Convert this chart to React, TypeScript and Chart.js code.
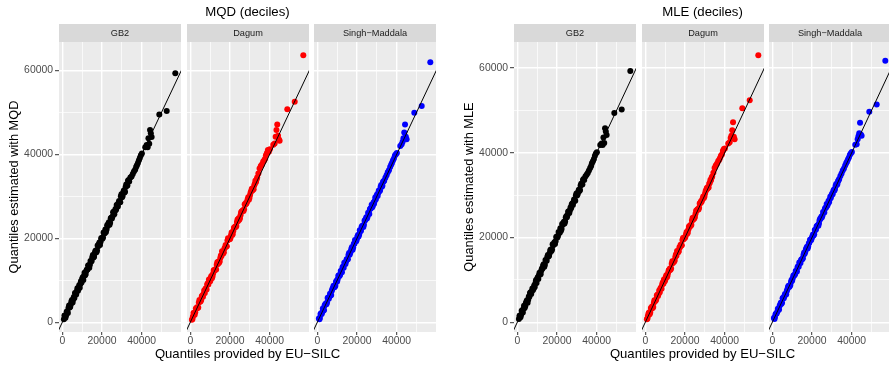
import React, { useEffect, useRef } from "react";
import { Chart, registerables } from "chart.js";
Chart.register(...registerables);

// ---------- data ----------
const groupTitles = ["MQD (deciles)", "MLE (deciles)"];
const yAxisTitles = ["Quantiles estimated with MQD", "Quantiles estimated with MLE"];
const xAxisTitle = "Quantiles provided by EU\u2212SILC";
const facetNames = ["GB2", "Dagum", "Singh\u2212Maddala"];
const facetColors = ["#000000", "#FF0000", "#0000FF"];

const xGridValues = [0, 10000, 20000, 30000, 40000, 50000];
const xTickLabels = [0, 20000, 40000];
const yGridValues = [0, 10000, 20000, 30000, 40000, 50000, 60000];
const yTickLabels = [0, 20000, 40000, 60000];
const xRange = [-1660, 59800];
const yRangeMQD = [-2310, 66740];
const yRangeMLE = [-2290, 66130];
const refLine = [-10000, 80000];

// EU-SILC quantiles (shared x values)
const euSilc = [
  800, 1300, 1900, 2500, 3100, 3700, 4300, 4900, 5500, 6100, 6700, 7300, 7900, 8500,
  9100, 9700, 10300, 10900, 11500, 12100, 12700, 13300, 13900, 14500, 15100, 15700,
  16300, 16900, 17500, 18100, 18700, 19300, 19900, 20500, 21100, 21700, 22300, 22900,
  23500, 24100, 24700, 25300, 25900, 26500, 27100, 27700, 28300, 28900, 29500, 30100,
  30700, 31300, 31900, 32500, 33100, 33700,
  34300, 34900, 35500, 36100, 36700, 37200, 37600, 38100, 38600, 39100, 39600, 40100,
  41800, 42500, 43000, 43400, 43800, 44200, 44600, 45000, 48870, 52600, 56930,
  1100, 1600, 2200, 2800, 3400, 4000, 4600, 5200, 5800, 6400, 7000, 7600, 8200, 8800,
  9400, 10000, 10600, 11200, 11800, 12400, 13000, 13600, 14200, 14800, 15400, 16000,
  16600, 17200, 17800, 18400, 19000, 19600, 20200, 20800, 21400, 22000, 22600, 23200,
  23800, 24400, 25000, 25600, 26200, 26800, 27400, 28000, 28600, 29200, 29800, 30400,
  31000, 31600, 32200, 32800, 33400,
];

const mqdGB2 = [
  700, 1500, 1600, 2600, 3400, 3500, 4300, 5300, 5400, 5800, 6900, 7400, 7500, 8800,
  9100, 9500, 10700, 11000, 11200, 12300, 12600, 13600, 13700, 14500, 15500, 15400,
  16400, 17100, 17100, 18100, 19000, 19200, 20100, 20200, 21200, 22100, 22100, 22900,
  23800, 23700, 24900, 25200, 26300, 26500, 26800, 27900, 28400, 28700, 30000, 29800,
  30900, 30900, 32200, 32500, 33700, 33500,
  34500, 34700, 35300, 35900, 36300, 37000, 37400, 37900, 38600, 39200, 39800, 40200,
  41700, 42200, 41700, 43800, 42500, 45800, 45000, 44100, 49500, 50300, 59300,
  1600, 1100, 2500, 2200, 4000, 3700, 5000, 4700, 6000, 7000, 6600, 8100, 8000, 8200,
  9800, 10300, 10100, 11800, 11500, 12600, 13500, 13000, 14600, 14600, 16000, 15600,
  16900, 16700, 18300, 18600, 18400, 20000, 19900, 21400, 21200, 21500, 23100, 23500,
  23200, 24800, 24700, 26200, 25700, 27000, 27900, 27600, 28900, 28600, 30500, 30100,
  31400, 31100, 32800, 32600, 33900,
];
const mqdDagum = [
  600, 1400, 2200, 2400, 3300, 3400, 4700, 4900, 5300, 6400, 6800, 7000, 8100, 9000,
  9000, 9700, 10600, 10500, 11600, 12300, 12500, 13700, 13900, 14200, 15300, 15800,
  16800, 16700, 17800, 18100, 19500, 19700, 19800, 20700, 20800, 21800, 22600, 22700,
  23900, 24100, 24400, 25500, 26400, 26600, 26900, 28000, 28300, 29300, 29200, 30300,
  31300, 31400, 31700, 33000, 33400, 34500,
  35400, 36600, 37200, 37600, 38200, 38500, 38900, 39800, 40300, 41000, 40600, 41200,
  42300, 42600, 44200, 45800, 47100, 44400, 43600, 43200, 50700, 52500, 63600,
  800, 2200, 1800, 3300, 3600, 3500, 5300, 5000, 6200, 6100, 7600, 7900, 7800, 9300,
  10200, 9800, 11000, 10900, 12400, 12600, 12600, 14300, 14500, 14500, 15900, 16900,
  16400, 17600, 18400, 18100, 20000, 19900, 20000, 21400, 21000, 22500, 22800, 22900,
  24500, 24800, 24800, 26200, 26500, 26500, 28100, 28400, 28700, 29800, 29600, 30900,
  31800, 31800, 32600, 33700, 34000,
];
const mqdSM = [
  900, 1100, 2100, 2400, 2800, 4000, 4400, 4700, 5900, 6100, 6400, 7500, 8200, 8400,
  8700, 9900, 10300, 11200, 11300, 12200, 13100, 13000, 14100, 14500, 15000, 16000,
  16100, 17000, 17900, 17800, 18700, 19500, 19800, 20800, 20900, 21700, 22700, 23000,
  23200, 24300, 25000, 25100, 25900, 26900, 27200, 27400, 28500, 28900, 29300, 30400,
  30800, 31200, 32300, 32300, 33400, 33700,
  34400, 35000, 35700, 36200, 37000, 37500, 37900, 38500, 39000, 39700, 40000, 40300,
  42000, 42400, 43000, 43800, 45200, 47100, 44200, 43600, 49900, 51500, 61900,
  700, 2000, 2000, 3300, 2900, 4300, 4300, 5800, 5600, 6800, 6500, 7900, 8700, 8400,
  9600, 9700, 11100, 11000, 12200, 11900, 13300, 14200, 13900, 15000, 15000, 16500,
  16500, 17600, 17300, 18700, 19600, 19300, 20400, 20400, 21900, 21800, 22900, 22700,
  24200, 24600, 24700, 26100, 25800, 27100, 28000, 27800, 28200, 29700, 30100, 30100,
  31400, 31400, 32700, 32500, 33600,
];
const mleGB2 = [
  800, 1600, 1700, 2700, 3200, 3400, 4500, 5200, 5300, 6000, 7100, 7300, 7600, 8700,
  9200, 9300, 10600, 11100, 11300, 12200, 12700, 13700, 13600, 14600, 15400, 15500,
  16300, 17200, 17200, 18200, 18900, 19100, 20200, 20400, 21100, 22200, 22000, 23000,
  23700, 23800, 25000, 25300, 26200, 26400, 26900, 28000, 28300, 28800, 29900, 29900,
  30800, 31000, 32300, 32600, 33600, 33600,
  34400, 34800, 35200, 35800, 36400, 36900, 37500, 38000, 38500, 39300, 39800, 40100,
  41800, 42200, 41800, 43600, 42300, 45800, 45000, 44200, 49400, 50200, 59300,
  1500, 1200, 2700, 2300, 3900, 3800, 4900, 4600, 6100, 6900, 6700, 8000, 7900, 8300,
  9900, 10200, 10200, 11700, 11400, 12700, 13400, 13100, 14700, 14500, 15900, 15700,
  17000, 16800, 18400, 18500, 18500, 20100, 20000, 21300, 21100, 21600, 23200, 23400,
  23300, 24700, 24800, 26100, 25800, 27100, 27800, 27700, 29000, 28700, 30400, 30200,
  31300, 31200, 32700, 32500, 33800,
];
const mleDagum = [
  700, 1500, 2300, 2300, 3200, 3400, 4600, 5000, 5400, 6500, 6700, 7100, 8200, 8900,
  9100, 9600, 10700, 10600, 11700, 12200, 12400, 13800, 14000, 14300, 15400, 15700,
  16700, 16800, 17700, 18200, 19400, 19600, 19900, 20800, 20900, 21900, 22500, 22800,
  24000, 24200, 24500, 25600, 26300, 26700, 27000, 28100, 28400, 29200, 29300, 30400,
  31200, 31500, 31800, 32900, 33500, 34400,
  35300, 36400, 37000, 37400, 38000, 38300, 38700, 39300, 39600, 40500, 40900, 41000,
  42200, 42500, 43500, 44000, 45300, 47200, 43800, 43200, 50500, 52400, 63000,
  900, 2100, 1900, 3400, 3700, 3600, 5200, 5100, 6300, 6200, 7500, 8000, 7900, 9400,
  10100, 9900, 11100, 11000, 12300, 12700, 12700, 14400, 14400, 14600, 16000, 16800,
  16500, 17700, 18300, 18200, 19900, 20000, 20100, 21300, 21100, 22600, 22900, 23000,
  24600, 24700, 24900, 26300, 26600, 26600, 28000, 28500, 28800, 29700, 29700, 31000,
  31700, 31900, 32700, 33600, 34100,
];
const mleSM = [
  1000, 1200, 2000, 2500, 2900, 3900, 4600, 4600, 5800, 6200, 6500, 7400, 8300, 8300,
  8800, 10000, 10400, 11100, 11400, 12100, 13000, 13100, 14000, 14700, 14900, 15900,
  16200, 17200, 17800, 17900, 18800, 19400, 19900, 20700, 20800, 21800, 22600, 22900,
  23300, 24400, 24900, 25200, 26000, 26800, 27100, 27500, 28600, 29000, 29400, 30300,
  30900, 31100, 32200, 32400, 33300, 33800,
  34500, 35100, 35800, 36300, 37000, 37500, 37900, 38400, 38900, 39500, 39900, 40200,
  41900, 42000, 43200, 43900, 44600, 47100, 44300, 44000, 49700, 51400, 61700,
  800, 1900, 2100, 3200, 3000, 4200, 4400, 5700, 5700, 6700, 6600, 7800, 8600, 8500,
  9500, 9800, 11000, 11100, 12100, 12000, 13200, 14100, 14000, 14900, 15100, 16400,
  16600, 17500, 17400, 18600, 19500, 19400, 20300, 20500, 21800, 21900, 22800, 22800,
  24100, 24500, 24800, 26000, 25900, 27000, 27900, 27900, 28300, 29600, 30000, 30200,
  31300, 31500, 32600, 32600, 33500,
];

const estimates = [
  [mqdGB2, mqdDagum, mqdSM],
  [mleGB2, mleDagum, mleSM],
];
const yRanges = [yRangeMQD, yRangeMLE];

// ---------- layout / style ----------
const FONT = "'Liberation Sans', Arial, Helvetica, sans-serif";
const PANEL_W = 122;
const YAXIS_W = 59;
const STRIP_H = 18;
const CANVAS_H = 367;
const XTICK_H = 15;
const panelLefts = [59, 187, 314];
const GROUP_SHIFT = 455;
// middle panel canvas spans the whole group so its titles are centred on it
const MID_LEFT_W = 128;
const MID_RIGHT_W = 127;

Chart.defaults.font.family = FONT;

const panelBackground = {
  id: "panelBackground",
  beforeDraw(chart: any, _args: any, opts: any) {
    const { ctx, chartArea: a } = chart;
    ctx.save();
    ctx.fillStyle = "#EBEBEB";
    ctx.fillRect(a.left, a.top, a.right - a.left, a.bottom - a.top);
    ctx.fillStyle = "#D9D9D9";
    ctx.fillRect(a.left, a.top - STRIP_H, a.right - a.left, STRIP_H);
    ctx.fillStyle = "#1A1A1A";
    ctx.font = `9.2px ${FONT}`;
    ctx.textAlign = "center";
    ctx.textBaseline = "middle";
    ctx.fillText(opts.label || "", (a.left + a.right) / 2, a.top - STRIP_H / 2 + 0.5);
    ctx.restore();
  },
};

function PanelChart({ group, facet }: { group: number; facet: number }) {
  const ref = useRef<HTMLCanvasElement>(null);
  const first = facet === 0;
  const mid = facet === 1;
  const left = mid
    ? panelLefts[facet] + group * GROUP_SHIFT - MID_LEFT_W
    : panelLefts[facet] + group * GROUP_SHIFT - (first ? YAXIS_W : 0);
  const width = mid ? MID_LEFT_W + PANEL_W + MID_RIGHT_W : PANEL_W + (first ? YAXIS_W : 0);

  useEffect(() => {
    const ys = estimates[group][facet];
    const [yMin, yMax] = yRanges[group];
    const color = facetColors[facet];
    const leftW = first ? YAXIS_W : mid ? MID_LEFT_W : 0;
    const scales: any = {
      x: {
        type: "linear",
        min: xRange[0],
        max: xRange[1],
        afterBuildTicks: (s: any) => {
          s.ticks = xGridValues.map((v) => ({ value: v }));
        },
        afterFit: (s: any) => {
          s.height = XTICK_H;
          s.paddingLeft = 0;
          s.paddingRight = 0;
        },
        border: { display: false },
        grid: {
          color: "#FFFFFF",
          lineWidth: (c: any) => (xTickLabels.includes(c.tick?.value) ? 1.4 : 0.7),
          drawTicks: true,
          tickLength: 3,
          tickWidth: 1,
          tickColor: (c: any) =>
            xTickLabels.includes(c.tick?.value) ? "#333333" : "rgba(0,0,0,0)",
        },
        ticks: {
          autoSkip: false,
          maxRotation: 0,
          padding: 1,
          color: "#4D4D4D",
          font: { size: 10.4, lineHeight: 1 },
          callback: (v: any) => (xTickLabels.includes(Number(v)) ? String(v) : ""),
        },
      },
      y: {
        type: "linear",
        min: yMin,
        max: yMax,
        afterBuildTicks: (s: any) => {
          s.ticks = yGridValues.map((v) => ({ value: v }));
        },
        afterFit: (s: any) => {
          s.width = leftW;
          s.paddingTop = 0;
          s.paddingBottom = 0;
        },
        border: { display: false },
        grid: {
          color: "#FFFFFF",
          lineWidth: (c: any) => (yTickLabels.includes(c.tick?.value) ? 1.4 : 0.7),
          drawTicks: first,
          tickLength: 4,
          tickWidth: 1,
          tickColor: (c: any) =>
            yTickLabels.includes(c.tick?.value) ? "#333333" : "rgba(0,0,0,0)",
        },
        ticks: {
          display: first,
          autoSkip: false,
          padding: 2,
          color: "#4D4D4D",
          font: { size: 10.4, lineHeight: 1 },
          callback: (v: any) => (yTickLabels.includes(Number(v)) ? String(v) : ""),
        },
        title: {
          display: first,
          text: yAxisTitles[group],
          color: "#000000",
          font: { size: 12.8, lineHeight: 1.2 },
          padding: { top: 6.3, bottom: 0 },
        },
      },
    };
    if (mid) {
      scales.spacer = {
        type: "linear",
        position: "right",
        display: true,
        grid: { display: false, drawTicks: false },
        border: { display: false },
        ticks: { display: false },
        afterFit: (s: any) => {
          s.width = MID_RIGHT_W;
          s.paddingTop = 0;
          s.paddingBottom = 0;
        },
      };
    }
    const chart = new Chart(ref.current as HTMLCanvasElement, {
      type: "scatter",
      data: {
        datasets: [
          {
            data: refLine.map((v) => ({ x: v, y: v })),
            showLine: true,
            borderColor: "#000000",
            borderWidth: 1,
            pointRadius: 0,
            pointHoverRadius: 0,
            clip: 0,
            order: 0,
          } as any,
          {
            data: euSilc.map((x, i) => ({ x, y: ys[i] })),
            backgroundColor: color,
            borderColor: color,
            pointRadius: 3,
            pointHoverRadius: 3,
            pointBorderWidth: 0,
            clip: 0,
            order: 1,
          } as any,
        ],
      },
      plugins: [panelBackground],
      options: {
        animation: false,
        responsive: false,
        maintainAspectRatio: false,
        events: [],
        layout: { padding: 0, autoPadding: false },
        plugins: {
          legend: { display: false },
          tooltip: { enabled: false },
          panelBackground: { label: facetNames[facet] },
          title: {
            display: true,
            text: mid ? groupTitles[group] : "",
            color: "#000000",
            font: { size: 13.2, weight: "normal", lineHeight: 1.2 },
            padding: { top: 4, bottom: 42 - 4 - 15.84 },
            fullSize: true,
          },
          subtitle: {
            display: true,
            position: "bottom",
            text: mid ? xAxisTitle : "",
            color: "#000000",
            font: { size: 13.1, weight: "normal", lineHeight: 1 },
            padding: { top: 0.45, bottom: 20 - 13.1 - 0.45 },
            fullSize: true,
          },
        },
        scales,
      } as any,
    });
    return () => chart.destroy();
  }, [group, facet]);

  return (
    <canvas
      ref={ref}
      width={width}
      height={CANVAS_H}
      style={{ position: "absolute", left, top: 0, width, height: CANVAS_H }}
    />
  );
}

export default function App() {
  return (
    <div
      style={{
        position: "absolute",
        left: 0,
        top: 0,
        width: 889,
        height: 367,
        overflow: "hidden",
        background: "#FFFFFF",
      }}
    >
      {[0, 1].map((g) =>
        [0, 1, 2].map((f) => <PanelChart key={`${g}-${f}`} group={g} facet={f} />)
      )}
    </div>
  );
}
